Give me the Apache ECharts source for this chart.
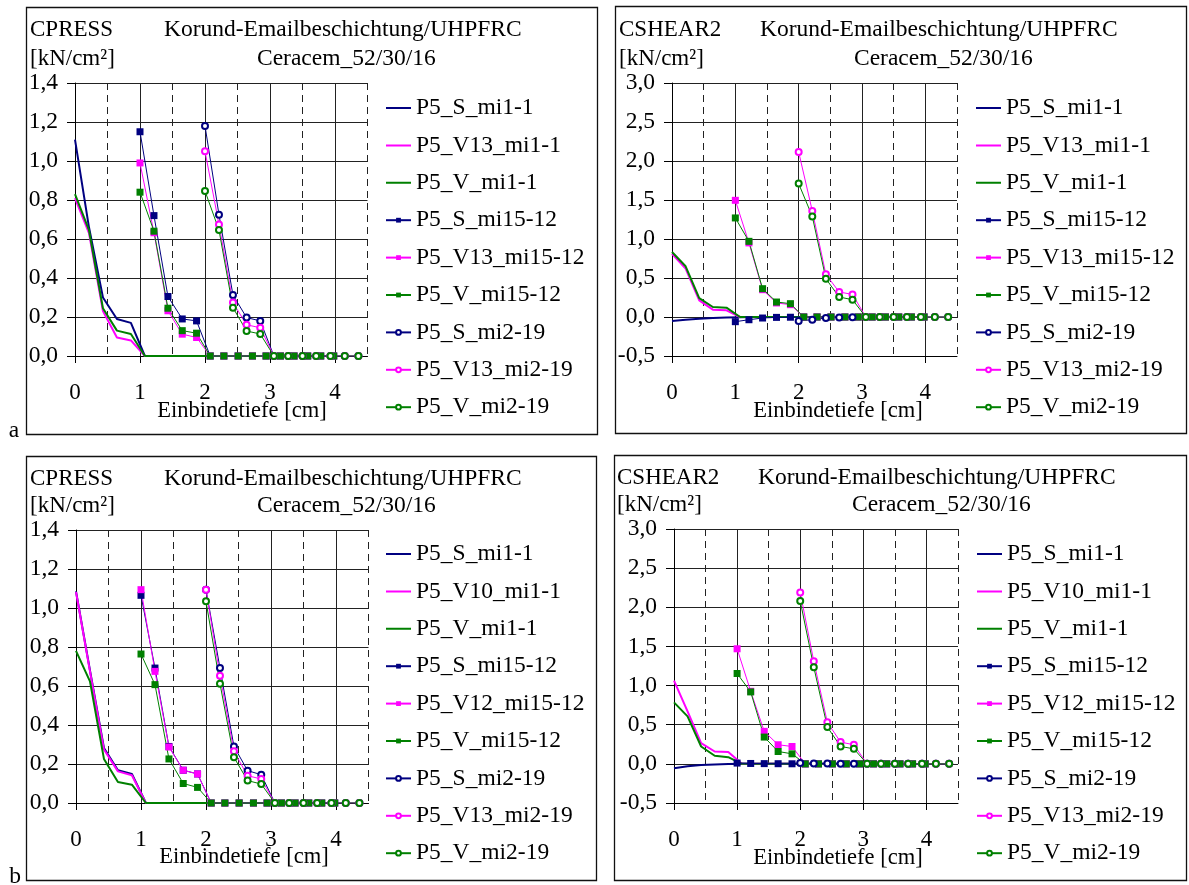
<!DOCTYPE html>
<html><head><meta charset="utf-8">
<script src="https://cdn.jsdelivr.net/npm/echarts@6/dist/echarts.min.js"></script>
<style>html,body{margin:0;padding:0;background:#fff}#c{width:1189px;height:885px}</style>
</head><body><div id="c"></div>
<script>
// ---- x positions (Einbindetiefe, cm) ----
const X_MI1  = [0, 0.215, 0.43, 0.645, 0.86, 1.075, 1.29, 1.505, 1.72, 1.935, 2.15, 2.365, 2.58, 2.795, 3.01];
const X_MI15 = [1.0, 1.215, 1.43, 1.65, 1.87, 2.08, 2.29, 2.51, 2.73, 2.94, 3.16, 3.37, 3.58, 3.78, 3.98];
const X_MI2  = [2.0, 2.215, 2.43, 2.64, 2.85, 3.06, 3.28, 3.5, 3.71, 3.93, 4.15, 4.36];

// ---- tick labels ----
const X_TICKS = [0, 1, 2, 3, 4];
const Y_TICKS_CPRESS = ['0,0','0,2','0,4','0,6','0,8','1,0','1,2','1,4'];
const Y_TICKS_CSHEAR = ['-0,5','0,0','0,5','1,0','1,5','2,0','2,5','3,0'];

// ---- legend names ----
const NAMES_TOP = ['P5_S_mi1-1','P5_V13_mi1-1','P5_V_mi1-1','P5_S_mi15-12','P5_V13_mi15-12','P5_V_mi15-12','P5_S_mi2-19','P5_V13_mi2-19','P5_V_mi2-19'];
const NAMES_BOT = ['P5_S_mi1-1','P5_V10_mi1-1','P5_V_mi1-1','P5_S_mi15-12','P5_V12_mi15-12','P5_V_mi15-12','P5_S_mi2-19','P5_V13_mi2-19','P5_V_mi2-19'];

// ---- panel a: CPRESS (top) ----
const A_S_MI1    = [1.11, 0.66, 0.30, 0.19, 0.17, 0, 0, 0, 0, 0, 0, 0, 0, 0, 0];
const A_V13_MI1  = [0.81, 0.63, 0.23, 0.095, 0.08, 0, 0, 0, 0, 0, 0, 0, 0, 0, 0];
const A_V_MI1    = [0.83, 0.645, 0.245, 0.13, 0.113, 0, 0, 0, 0, 0, 0, 0, 0, 0, 0];
const A_S_MI15   = [1.15, 0.72, 0.305, 0.19, 0.18, 0, 0, 0, 0, 0, 0, 0, 0, 0, 0];
const A_V13_MI15 = [0.99, 0.632, 0.232, 0.112, 0.095, 0, 0, 0, 0, 0, 0, 0, 0, 0, 0];
const A_V_MI15   = [0.84, 0.64, 0.245, 0.13, 0.117, 0, 0, 0, 0, 0, 0, 0, 0, 0, 0];
const A_S_MI2    = [1.18, 0.725, 0.313, 0.197, 0.18, 0, 0, 0, 0, 0, 0, 0];
const A_V13_MI2  = [1.05, 0.675, 0.274, 0.16, 0.145, 0, 0, 0, 0, 0, 0, 0];
const A_V_MI2    = [0.846, 0.646, 0.248, 0.128, 0.113, 0, 0, 0, 0, 0, 0, 0];

// ---- panel b: CSHEAR2 (top) ----
const B_S_MI1    = [-0.05, -0.035, -0.022, -0.012, -0.006, -0.002, 0, 0, 0, 0, 0, 0, 0, 0, 0];
const B_V13_MI1  = [0.81, 0.62, 0.214, 0.094, 0.085, 0, 0, 0, 0, 0, 0, 0, 0, 0, 0];
const B_V_MI1    = [0.833, 0.65, 0.243, 0.128, 0.12, 0, 0, 0, 0, 0, 0, 0, 0, 0, 0];
const B_S_MI15   = [-0.06, -0.035, -0.013, -0.005, -0.003, 0, 0, 0, 0, 0, 0, 0, 0, 0, 0];
const B_V13_MI15 = [1.496, 0.95, 0.35, 0.18, 0.158, 0, 0, 0, 0, 0, 0, 0, 0, 0, 0];
const B_V_MI15   = [1.27, 0.97, 0.363, 0.192, 0.171, 0, 0, 0, 0, 0, 0, 0, 0, 0, 0];
const B_S_MI2    = [-0.05, -0.035, -0.013, -0.005, -0.003, 0, 0, 0, 0, 0, 0, 0];
const B_V13_MI2  = [2.115, 1.36, 0.547, 0.32, 0.29, 0, 0, 0, 0, 0, 0, 0];
const B_V_MI2    = [1.71, 1.29, 0.49, 0.256, 0.222, 0, 0, 0, 0, 0, 0, 0];

// ---- panel c: CPRESS (bottom) ----
const C_S_MI1    = [1.085, 0.68, 0.282, 0.168, 0.149, 0, 0, 0, 0, 0, 0, 0, 0, 0, 0];
const C_V10_MI1  = [1.082, 0.675, 0.274, 0.162, 0.142, 0, 0, 0, 0, 0, 0, 0, 0, 0, 0];
const C_V_MI1    = [0.78, 0.624, 0.226, 0.108, 0.094, 0, 0, 0, 0, 0, 0, 0, 0, 0, 0];
const C_S_MI15   = [1.065, 0.692, 0.29, 0.168, 0.149, 0, 0, 0, 0, 0, 0, 0, 0, 0, 0];
const C_V12_MI15 = [1.094, 0.675, 0.287, 0.168, 0.149, 0, 0, 0, 0, 0, 0, 0, 0, 0, 0];
const C_V_MI15   = [0.764, 0.607, 0.226, 0.1, 0.08, 0, 0, 0, 0, 0, 0, 0, 0, 0, 0];
const C_S_MI2    = [1.094, 0.692, 0.29, 0.166, 0.145, 0, 0, 0, 0, 0, 0, 0];
const C_V13_MI2  = [1.094, 0.653, 0.265, 0.14, 0.123, 0, 0, 0, 0, 0, 0, 0];
const C_V_MI2    = [1.034, 0.612, 0.234, 0.115, 0.097, 0, 0, 0, 0, 0, 0, 0];

// ---- panel d: CSHEAR2 (bottom) ----
const D_S_MI1    = [-0.055, -0.03, -0.015, -0.007, -0.003, 0, 0, 0, 0, 0, 0, 0, 0, 0, 0];
const D_V10_MI1  = [1.064, 0.67, 0.265, 0.158, 0.15, 0, 0, 0, 0, 0, 0, 0, 0, 0, 0];
const D_V_MI1    = [0.786, 0.607, 0.222, 0.103, 0.085, 0, 0, 0, 0, 0, 0, 0, 0, 0, 0];
const D_S_MI15   = [0.01, 0.005, 0.003, 0.002, 0.001, 0, 0, 0, 0, 0, 0, 0, 0, 0, 0];
const D_V12_MI15 = [1.47, 0.927, 0.415, 0.244, 0.222, 0, 0, 0, 0, 0, 0, 0, 0, 0, 0];
const D_V_MI15   = [1.154, 0.919, 0.342, 0.158, 0.128, 0, 0, 0, 0, 0, 0, 0, 0, 0, 0];
const D_S_MI2    = [0.01, 0.005, 0.003, 0.002, 0.001, 0, 0, 0, 0, 0, 0, 0];
const D_V13_MI2  = [2.188, 1.31, 0.53, 0.278, 0.244, 0, 0, 0, 0, 0, 0, 0];
const D_V_MI2    = [2.08, 1.235, 0.47, 0.222, 0.192, 0, 0, 0, 0, 0, 0, 0];

const FONT = '"Liberation Serif","Times New Roman",serif';
const NAVY = '#000080', MAG = '#ff00ff', GRN = '#008000';
const LINE_ICON = 'path://M0,0L0.001,0ZM0,2L25,2L25,4L0,4ZM0,6L0.001,6Z';

const PANELS = [
  { grid: {left: 75, top: 83, width: 292.5, height: 273}, ymin: 0, ymax: 1.4, yint: 0.2, yLabels: Y_TICKS_CPRESS,
    names: NAMES_TOP, ys: [A_S_MI1, A_V13_MI1, A_V_MI1, A_S_MI15, A_V13_MI15, A_V_MI15, A_S_MI2, A_V13_MI2, A_V_MI2] },
  { grid: {left: 672, top: 83, width: 285, height: 273}, ymin: -0.5, ymax: 3.0, yint: 0.5, yLabels: Y_TICKS_CSHEAR,
    names: NAMES_TOP, ys: [B_S_MI1, B_V13_MI1, B_V_MI1, B_S_MI15, B_V13_MI15, B_V_MI15, B_S_MI2, B_V13_MI2, B_V_MI2] },
  { grid: {left: 76, top: 530, width: 292.5, height: 273}, ymin: 0, ymax: 1.4, yint: 0.2, yLabels: Y_TICKS_CPRESS,
    names: NAMES_BOT, ys: [C_S_MI1, C_V10_MI1, C_V_MI1, C_S_MI15, C_V12_MI15, C_V_MI15, C_S_MI2, C_V13_MI2, C_V_MI2] },
  { grid: {left: 674, top: 529, width: 284, height: 274}, ymin: -0.5, ymax: 3.0, yint: 0.5, yLabels: Y_TICKS_CSHEAR,
    names: NAMES_BOT, ys: [D_S_MI1, D_V10_MI1, D_V_MI1, D_S_MI15, D_V12_MI15, D_V_MI15, D_S_MI2, D_V13_MI2, D_V_MI2] }
];

const XS = [X_MI1, X_MI1, X_MI1, X_MI15, X_MI15, X_MI15, X_MI2, X_MI2, X_MI2];
const COLS = [NAVY, MAG, GRN, NAVY, MAG, GRN, NAVY, MAG, GRN];
const KINDS = ['line','line','line','sq','sq','sq','ci','ci','ci'];

const grids = [], xAxes = [], yAxes = [], series = [];
PANELS.forEach((p, gi) => {
  grids.push(Object.assign({show: false}, p.grid));
  xAxes.push({
    gridIndex: gi, type: 'value', min: 0, max: 4.5, interval: 1, position: 'bottom',
    axisLine: {onZero: false, lineStyle: {color: '#000', width: 1}},
    axisTick: {show: true, length: 7, customValues: X_TICKS, lineStyle: {color: '#000'}},
    axisLabel: {margin: 25, fontSize: 23, fontFamily: FONT, color: '#000', customValues: X_TICKS,
      formatter: v => String(v)},
    splitLine: {show: true, lineStyle: {color: '#222', width: 1}}
  });
  xAxes.push({
    gridIndex: gi, type: 'value', min: 0, max: 4.5, interval: 0.5, position: 'top',
    axisLine: {show: false}, axisTick: {show: false}, axisLabel: {show: false},
    splitLine: {show: true, lineStyle: {color: '#222', width: 1, type: [7, 5]}}
  });
  yAxes.push({
    gridIndex: gi, type: 'value', min: p.ymin, max: p.ymax, interval: p.yint,
    axisLine: {show: true, lineStyle: {color: '#000', width: 1}},
    axisTick: {show: true, length: 8, lineStyle: {color: '#000'}},
    axisLabel: {margin: 17, fontSize: 23.5, fontFamily: FONT, color: '#000',
      formatter: v => p.yLabels[Math.round((v - p.ymin) / p.yint)] || ''},
    splitLine: {show: true, lineStyle: {color: '#222', width: 1}}
  });
  p.ys.forEach((ys, k) => {
    const data = XS[k].map((x, i) => [x, ys[i]]);
    const kind = KINDS[k];
    const s = {
      type: 'line', name: p.names[k], xAxisIndex: gi * 2, yAxisIndex: gi,
      data: data, color: COLS[k], animation: false, z: 3,
      lineStyle: {color: COLS[k], width: kind === 'line' ? 2 : 1},
      itemStyle: {color: COLS[k]}
    };
    if (kind === 'line') { s.symbol = 'none'; s.showSymbol = false; }
    else if (kind === 'sq') { s.symbol = 'rect'; s.symbolSize = 7; }
    else { s.symbol = 'emptyCircle'; s.symbolSize = 6; s.itemStyle = {color: COLS[k], borderWidth: 1}; }
    series.push(s);
  });
});

function legend(names, left, top) {
  return {
    data: names.map((n, i) => (KINDS[i] === 'line' ? {name: n, icon: LINE_ICON} : {name: n})),
    orient: 'vertical', left: left, top: top,
    itemWidth: 25, itemHeight: 6, itemGap: 13.4, padding: 0, selectedMode: false,
    textStyle: {fontSize: 23.5, fontFamily: FONT, color: '#000', lineHeight: 24}
  };
}

function txt(text, x, y, align, size) {
  return {type: 'text', silent: true, style: {text: text, x: x, y: y, align: align || 'left', verticalAlign: 'middle',
    fontSize: size || 23.5, fontFamily: FONT, fill: '#000'}};
}
function box(x1, y1, x2, y2) {
  return {type: 'rect', silent: true, shape: {x: x1 + 0.5, y: y1 + 0.5, width: x2 - x1, height: y2 - y1},
    style: {fill: 'none', stroke: '#111', lineWidth: 1.3}};
}

const graphics = [
  box(26, 7, 597, 434), box(615, 6, 1186, 433), box(26, 456, 596, 880), box(614, 455, 1186, 880),
  txt('CPRESS', 30, 30, 'left', 23), txt('[kN/cm²]', 30, 59, 'left', 23),
  txt('Korund-Emailbeschichtung/UHPFRC', 164, 30), txt('Ceracem_52/30/16', 257, 59),
  txt('CSHEAR2', 619, 30, 'left', 23), txt('[kN/cm²]', 619, 59, 'left', 23),
  txt('Korund-Emailbeschichtung/UHPFRC', 760, 30), txt('Ceracem_52/30/16', 854, 59),
  txt('CPRESS', 30, 479, 'left', 23), txt('[kN/cm²]', 30, 506, 'left', 23),
  txt('Korund-Emailbeschichtung/UHPFRC', 164, 479), txt('Ceracem_52/30/16', 257, 506),
  txt('CSHEAR2', 617, 478, 'left', 23), txt('[kN/cm²]', 617, 505, 'left', 23),
  txt('Korund-Emailbeschichtung/UHPFRC', 758, 478), txt('Ceracem_52/30/16', 852, 505),
  txt('Einbindetiefe [cm]', 242, 411, 'center', 22.5), txt('Einbindetiefe [cm]', 838, 411, 'center', 22.5),
  txt('Einbindetiefe [cm]', 244, 857, 'center', 22.5), txt('Einbindetiefe [cm]', 838, 858, 'center', 22.5),
  txt('a', 14, 431, 'center'), txt('b', 15, 877, 'center')
];

const chart = echarts.init(document.getElementById('c'), null, {renderer: 'canvas'});
chart.setOption({
  backgroundColor: '#fff',
  animation: false,
  grid: grids, xAxis: xAxes, yAxis: yAxes, series: series,
  legend: [legend(NAMES_TOP, 385, 96), legend(NAMES_TOP, 975, 96), legend(NAMES_BOT, 385, 542), legend(NAMES_BOT, 976, 542)],
  graphic: graphics
});
</script></body></html>
